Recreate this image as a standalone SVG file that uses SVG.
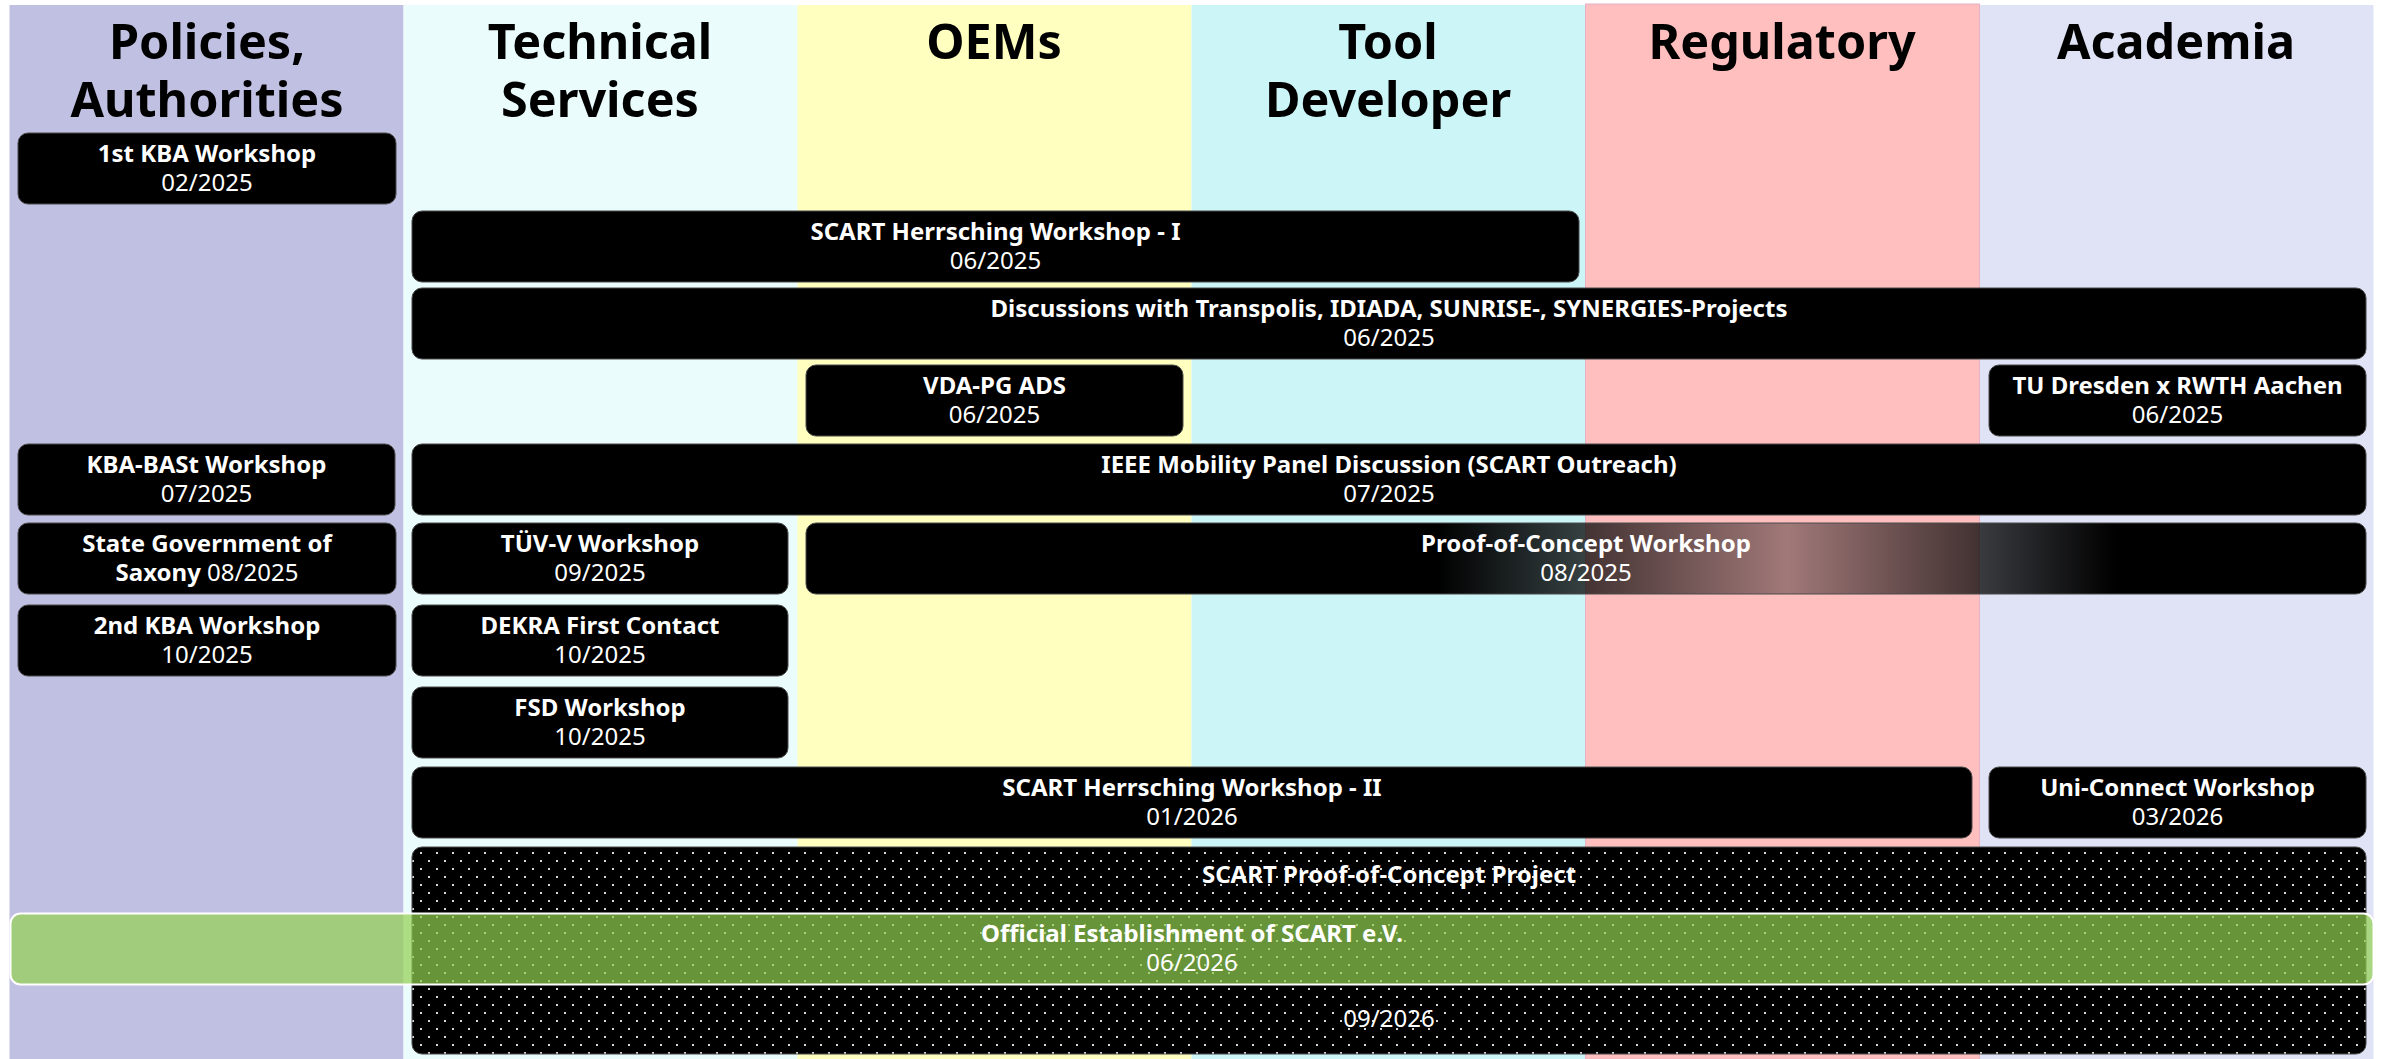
<svg xmlns="http://www.w3.org/2000/svg" width="2382" height="1059" viewBox="0 0 2382 1059">
  <style>
    .hdr { font-family: "Noto Sans", "Open Sans", "Liberation Sans", sans-serif; font-weight: 700; font-size: 48.5px; fill: #000; text-anchor: middle; }
    .box { fill: #000; stroke: #4a4a4a; stroke-width: 1; }
    .t { font-family: "Noto Sans", "Open Sans", "Liberation Sans", sans-serif; font-size: 24px; fill: #fff; text-anchor: middle; }
    .b { font-weight: 700; }
  </style>
  <defs>
    <pattern id="dots" x="0" y="0" width="16" height="16" patternUnits="userSpaceOnUse">
      <rect width="16" height="16" fill="#000"/>
      <rect x="4" y="4" width="2" height="2" fill="#d6d6d6"/>
      <rect x="12" y="12" width="2" height="2" fill="#d6d6d6"/>
    </pattern>
    <linearGradient id="shine" gradientUnits="userSpaceOnUse" x1="806" y1="0" x2="2366" y2="0">
      <stop offset="0" stop-color="#000" stop-opacity="1"/>
      <stop offset="0.405" stop-color="#000" stop-opacity="1"/>
      <stop offset="0.629" stop-color="#000" stop-opacity="0.37"/>
      <stop offset="0.839" stop-color="#000" stop-opacity="1"/>
      <stop offset="1" stop-color="#000" stop-opacity="1"/>
    </linearGradient>
  </defs>

  <rect x="0" y="0" width="2382" height="1059" fill="#fff"/>

  <g id="lanes">
    <rect x="9.5" y="5" width="394" height="1054" fill="#C0C0E2"/>
    <rect x="403.5" y="5" width="394" height="1054" fill="#EAFCFC"/>
    <rect x="797.5" y="5" width="394" height="1054" fill="#FFFFC0"/>
    <rect x="1191.5" y="5" width="394" height="1054" fill="#CCF5F8"/>
    <rect x="1585.5" y="4" width="394" height="1055" fill="#FFBFBF" stroke="#E6B2C4" stroke-width="1"/>
    <rect x="1980" y="5" width="393.5" height="1054" fill="#DFE3F5"/>
    <text class="hdr" x="207" y="59">Policies,</text>
    <text class="hdr" x="207" y="117">Authorities</text>
    <text class="hdr" x="600" y="59">Technical</text>
    <text class="hdr" x="600" y="117">Services</text>
    <text class="hdr" x="994" y="59">OEMs</text>
    <text class="hdr" x="1388" y="59">Tool</text>
    <text class="hdr" x="1388" y="117">Developer</text>
    <text class="hdr" x="1782" y="59">Regulatory</text>
    <text class="hdr" x="2176" y="59">Academia</text>
  </g>

  <g id="connectors"></g>

  <g id="kba1">
    <rect class="box" x="18" y="133" width="378" height="71" rx="10"/>
    <text class="t b" x="207" y="162">1st KBA Workshop</text>
    <text class="t" x="207" y="191">02/2025</text>
  </g>
  <g id="herrsching1">
    <rect class="box" x="412" y="211" width="1167" height="71" rx="10"/>
    <text class="t b" x="995.5" y="240">SCART Herrsching Workshop - I</text>
    <text class="t" x="995.5" y="269">06/2025</text>
  </g>
  <g id="discussions">
    <rect class="box" x="412" y="288" width="1954" height="71" rx="10"/>
    <text class="t b" x="1389" y="317">Discussions with Transpolis, IDIADA, SUNRISE-, SYNERGIES-Projects</text>
    <text class="t" x="1389" y="346">06/2025</text>
  </g>
  <g id="vda">
    <rect class="box" x="806" y="365" width="377" height="71" rx="10"/>
    <text class="t b" x="994.5" y="394">VDA-PG ADS</text>
    <text class="t" x="994.5" y="423">06/2025</text>
  </g>
  <g id="tudresden">
    <rect class="box" x="1989" y="365" width="377" height="71" rx="10"/>
    <text class="t b" x="2177.5" y="394">TU Dresden x RWTH Aachen</text>
    <text class="t" x="2177.5" y="423">06/2025</text>
  </g>
  <g id="kbabast">
    <rect class="box" x="18" y="444" width="377" height="71" rx="10"/>
    <text class="t b" x="206.5" y="473">KBA-BASt Workshop</text>
    <text class="t" x="206.5" y="502">07/2025</text>
  </g>
  <g id="ieee">
    <rect class="box" x="412" y="444" width="1954" height="71" rx="10"/>
    <text class="t b" x="1389" y="473">IEEE Mobility Panel Discussion (SCART Outreach)</text>
    <text class="t" x="1389" y="502">07/2025</text>
  </g>
  <g id="saxony">
    <rect class="box" x="18" y="523" width="378" height="71" rx="10"/>
    <text class="t b" x="207" y="552">State Government of</text>
    <text class="t" x="207" y="581"><tspan class="b">Saxony</tspan> 08/2025</text>
  </g>
  <g id="tuev">
    <rect class="box" x="412" y="523" width="376" height="71" rx="10"/>
    <text class="t b" x="600" y="552">TÜV-V Workshop</text>
    <text class="t" x="600" y="581">09/2025</text>
  </g>
  <g id="pocworkshop">
    <rect x="806" y="523" width="1560" height="71" rx="10" fill="url(#shine)" stroke="#4a4a4a" stroke-width="1"/>
    <text class="t b" x="1586" y="552">Proof-of-Concept Workshop</text>
    <text class="t" x="1586" y="581">08/2025</text>
  </g>
  <g id="kba2">
    <rect class="box" x="18" y="605" width="378" height="71" rx="10"/>
    <text class="t b" x="207" y="634">2nd KBA Workshop</text>
    <text class="t" x="207" y="663">10/2025</text>
  </g>
  <g id="dekra">
    <rect class="box" x="412" y="605" width="376" height="71" rx="10"/>
    <text class="t b" x="600" y="634">DEKRA First Contact</text>
    <text class="t" x="600" y="663">10/2025</text>
  </g>
  <g id="fsd">
    <rect class="box" x="412" y="687" width="376" height="71" rx="10"/>
    <text class="t b" x="600" y="716">FSD Workshop</text>
    <text class="t" x="600" y="745">10/2025</text>
  </g>
  <g id="herrsching2">
    <rect class="box" x="412" y="767" width="1560" height="71" rx="10"/>
    <text class="t b" x="1192" y="796">SCART Herrsching Workshop - II</text>
    <text class="t" x="1192" y="825">01/2026</text>
  </g>
  <g id="uniconnect">
    <rect class="box" x="1989" y="767" width="377" height="71" rx="10"/>
    <text class="t b" x="2177.5" y="796">Uni-Connect Workshop</text>
    <text class="t" x="2177.5" y="825">03/2026</text>
  </g>
  <g id="pocproject">
    <rect x="412" y="847" width="1954" height="207" rx="10" fill="url(#dots)" stroke="#4a4a4a" stroke-width="1"/>
    <text class="t b" x="1389" y="883">SCART Proof-of-Concept Project</text>
    <text class="t" x="1389" y="1027">09/2026</text>
  </g>
  <g id="establishment">
    <rect x="10.5" y="913.5" width="2363" height="71" rx="10" fill="#92D050" fill-opacity="0.71" stroke="#fff" stroke-width="2"/>
    <text class="t b" x="1192" y="942">Official Establishment of SCART e.V.</text>
    <text class="t" x="1192" y="971">06/2026</text>
  </g>
</svg>
